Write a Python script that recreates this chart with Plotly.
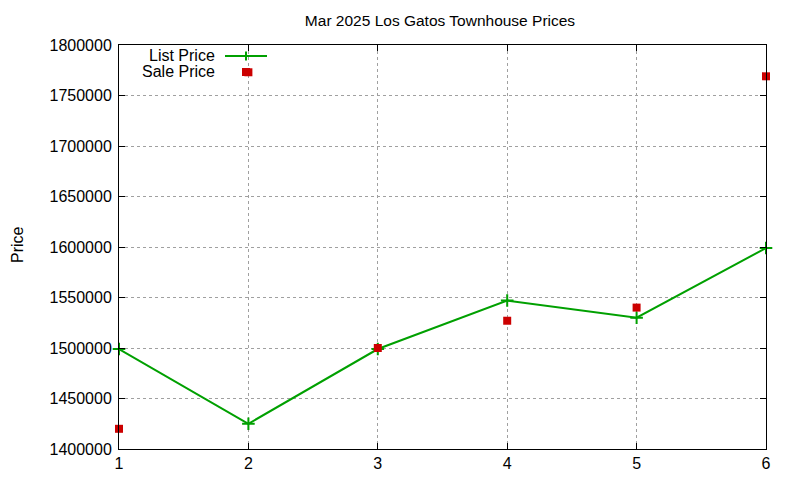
import plotly.graph_objects as go

# data
months = [1, 2, 3, 4, 5, 6]
list_price = [1499000, 1425000, 1499000, 1547000, 1530000, 1599000]
sale_price = [1420000, 1773000, 1500000, 1527000, 1540000, 1769000]

title = "Mar 2025 Los Gatos Townhouse Prices"
green = "#00a000"
red = "#cc0000"
font = "Liberation Sans, Arial, sans-serif"

# page has an 8px body margin, so the figure is drawn 8px in from the corner
OFF = 8
W, H = 800 - OFF, 480 - OFF
L, R, T, B = 119 - OFF, 34, 45 - OFF, 31
pw, ph = W - L - R, H - T - B


def px(x):  # screen pixel x -> paper
    return (x - OFF - L) / pw


def py(y):  # screen pixel y -> paper
    return 1 - (y - OFF - T) / ph


fig = go.Figure()

fig.add_trace(go.Scatter(
    x=months, y=list_price, mode="lines+markers", name="List Price",
    line=dict(color=green, width=2),
    marker=dict(symbol="cross-thin", size=9, line=dict(color=green, width=2)),
    cliponaxis=False,
))
fig.add_trace(go.Scatter(
    x=months, y=sale_price, mode="markers", name="Sale Price",
    marker=dict(symbol="square", size=8, color=red),
    cliponaxis=False,
))

axis_common = dict(
    showline=True, linecolor="black", linewidth=1, mirror="ticks",
    ticks="inside", ticklen=6, tickcolor="black",
    showgrid=True, gridcolor="#a0a0a0", griddash="dot", gridwidth=1,
    zeroline=False, automargin=False,
    tickfont=dict(size=16, color="black", family=font),
)

fig.update_xaxes(range=[1, 6], dtick=1, **axis_common)
fig.update_yaxes(range=[1400000, 1800000], dtick=50000, tickformat="d",
                 ticklabelstandoff=3, **axis_common)

# gnuplot-style key: text on the left, sample on the right
fig.add_annotation(x=px(217), y=py(55), xref="paper", yref="paper", text="List Price",
                   showarrow=False, xanchor="right", yanchor="middle",
                   font=dict(size=16, color="black", family=font))
fig.add_annotation(x=px(217), y=py(71), xref="paper", yref="paper", text="Sale Price",
                   showarrow=False, xanchor="right", yanchor="middle",
                   font=dict(size=16, color="black", family=font))
fig.add_shape(type="line", xref="paper", yref="paper", x0=px(225), x1=px(267),
              y0=py(56), y1=py(56), line=dict(color=green, width=2))
fig.add_shape(type="line", xref="paper", yref="paper", x0=px(246), x1=px(246),
              y0=py(51.5), y1=py(60.5), line=dict(color=green, width=2))
fig.add_shape(type="rect", xref="paper", yref="paper", x0=px(242), x1=px(250),
              y0=py(68), y1=py(76), line=dict(width=0), fillcolor=red)

fig.add_annotation(x=px(17), y=py(245), xref="paper", yref="paper", text="Price",
                   showarrow=False, textangle=-90, xanchor="center", yanchor="middle",
                   font=dict(size=16, color="black", family=font))

fig.update_layout(
    width=W, height=H,
    margin=dict(l=L, r=R, t=T, b=B),
    plot_bgcolor="white", paper_bgcolor="white",
    showlegend=False,
    title=dict(text=title, x=px(440), xref="paper", xanchor="center",
               y=1 - (21 - OFF) / H, yanchor="middle",
               font=dict(size=15.5, color="black", family=font)),
    font=dict(family=font, color="black"),
)

fig.write_html("out.html")
